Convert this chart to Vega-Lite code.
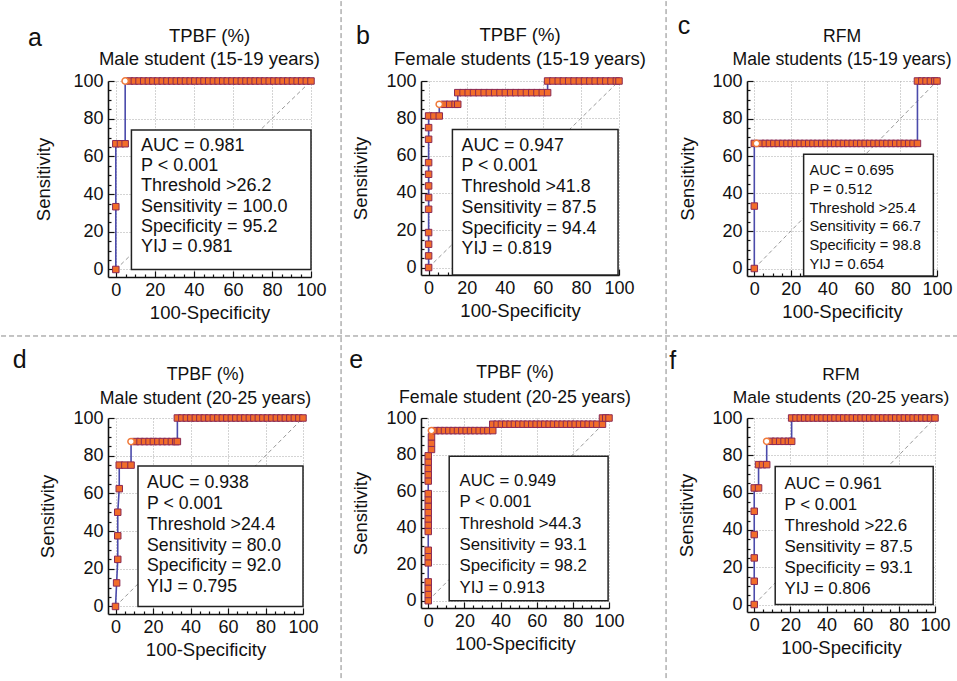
{
"$schema": "https://vega.github.io/schema/vega-lite/v6.json",
"padding": 0,
"background": "white",
"columns": 5,
"spacing": {"row": 141, "column": 0},
"bounds": "flush",
"align": "each",
"datasets": {
"info": [
{"panel":"a","letter":"a","title":"TPBF (%)\nMale student (15-19 years)","stats":"AUC = 0.981\nP < 0.001\nThreshold >26.2\nSensitivity = 100.0\nSpecificity = 95.2\nYIJ = 0.981"},
{"panel":"b","letter":"b","title":"TPBF (%)\nFemale students (15-19 years)","stats":"AUC = 0.947\nP < 0.001\nThreshold >41.8\nSensitivity = 87.5\nSpecificity = 94.4\nYIJ = 0.819"},
{"panel":"c","letter":"c","title":"RFM\nMale students (15-19 years)","stats":"AUC = 0.695\nP = 0.512\nThreshold >25.4\nSensitivity = 66.7\nSpecificity = 98.8\nYIJ = 0.654"},
{"panel":"d","letter":"d","title":"TPBF (%)\nMale student (20-25 years)","stats":"AUC = 0.938\nP < 0.001\nThreshold >24.4\nSensitivity = 80.0\nSpecificity = 92.0\nYIJ = 0.795"},
{"panel":"e","letter":"e","title":"TPBF (%)\nFemale student (20-25 years)","stats":"AUC = 0.949\nP < 0.001\nThreshold >44.3\nSensitivity = 93.1\nSpecificity = 98.2\nYIJ = 0.913"},
{"panel":"f","letter":"f","title":"RFM\nMale students (20-25 years)","stats":"AUC = 0.961\nP < 0.001\nThreshold >22.6\nSensitivity = 87.5\nSpecificity = 93.1\nYIJ = 0.806"}
],
"roc": [
{"panel":"a","fpr":0,"sens":0},{"panel":"a","fpr":0,"sens":33.3},{"panel":"a","fpr":0,"sens":66.7},{"panel":"a","fpr":2.4,"sens":66.7},{"panel":"a","fpr":4.8,"sens":66.7},{"panel":"a","fpr":4.8,"sens":100,"best":true},{"panel":"a","fpr":7.1,"sens":100},{"panel":"a","fpr":9.5,"sens":100},{"panel":"a","fpr":11.9,"sens":100},{"panel":"a","fpr":14.3,"sens":100},{"panel":"a","fpr":16.7,"sens":100},{"panel":"a","fpr":19,"sens":100},{"panel":"a","fpr":21.4,"sens":100},{"panel":"a","fpr":23.8,"sens":100},{"panel":"a","fpr":26.2,"sens":100},{"panel":"a","fpr":28.6,"sens":100},{"panel":"a","fpr":31,"sens":100},{"panel":"a","fpr":33.3,"sens":100},{"panel":"a","fpr":35.7,"sens":100},{"panel":"a","fpr":38.1,"sens":100},{"panel":"a","fpr":40.5,"sens":100},{"panel":"a","fpr":42.9,"sens":100},{"panel":"a","fpr":45.2,"sens":100},{"panel":"a","fpr":47.6,"sens":100},{"panel":"a","fpr":50,"sens":100},{"panel":"a","fpr":52.4,"sens":100},{"panel":"a","fpr":54.8,"sens":100},{"panel":"a","fpr":57.1,"sens":100},{"panel":"a","fpr":59.5,"sens":100},{"panel":"a","fpr":61.9,"sens":100},{"panel":"a","fpr":64.3,"sens":100},{"panel":"a","fpr":66.7,"sens":100},{"panel":"a","fpr":69,"sens":100},{"panel":"a","fpr":71.4,"sens":100},{"panel":"a","fpr":73.8,"sens":100},{"panel":"a","fpr":76.2,"sens":100},{"panel":"a","fpr":78.6,"sens":100},{"panel":"a","fpr":81,"sens":100},{"panel":"a","fpr":83.3,"sens":100},{"panel":"a","fpr":85.7,"sens":100},{"panel":"a","fpr":88.1,"sens":100},{"panel":"a","fpr":90.5,"sens":100},{"panel":"a","fpr":92.9,"sens":100},{"panel":"a","fpr":95.2,"sens":100},{"panel":"a","fpr":97.6,"sens":100},{"panel":"a","fpr":100,"sens":100},
{"panel":"b","fpr":0,"sens":0},{"panel":"b","fpr":0,"sens":6.25},{"panel":"b","fpr":0,"sens":12.5},{"panel":"b","fpr":0,"sens":18.75},{"panel":"b","fpr":0,"sens":31.25},{"panel":"b","fpr":0,"sens":37.5},{"panel":"b","fpr":0,"sens":43.75},{"panel":"b","fpr":0,"sens":50},{"panel":"b","fpr":0,"sens":56.25},{"panel":"b","fpr":0,"sens":68.75},{"panel":"b","fpr":0,"sens":75},{"panel":"b","fpr":0,"sens":81.25},{"panel":"b","fpr":2.8,"sens":81.25},{"panel":"b","fpr":5.6,"sens":81.25},{"panel":"b","fpr":5.6,"sens":87.5,"best":true},{"panel":"b","fpr":8.3,"sens":87.5},{"panel":"b","fpr":11.1,"sens":87.5},{"panel":"b","fpr":13.9,"sens":87.5},{"panel":"b","fpr":15.3,"sens":87.5},{"panel":"b","fpr":15.3,"sens":93.75},{"panel":"b","fpr":18.1,"sens":93.75},{"panel":"b","fpr":20.8,"sens":93.75},{"panel":"b","fpr":23.6,"sens":93.75},{"panel":"b","fpr":26.4,"sens":93.75},{"panel":"b","fpr":29.2,"sens":93.75},{"panel":"b","fpr":31.9,"sens":93.75},{"panel":"b","fpr":34.7,"sens":93.75},{"panel":"b","fpr":37.5,"sens":93.75},{"panel":"b","fpr":40.3,"sens":93.75},{"panel":"b","fpr":43.1,"sens":93.75},{"panel":"b","fpr":45.8,"sens":93.75},{"panel":"b","fpr":48.6,"sens":93.75},{"panel":"b","fpr":51.4,"sens":93.75},{"panel":"b","fpr":54.2,"sens":93.75},{"panel":"b","fpr":56.9,"sens":93.75},{"panel":"b","fpr":59.7,"sens":93.75},{"panel":"b","fpr":62.5,"sens":93.75},{"panel":"b","fpr":62.5,"sens":100},{"panel":"b","fpr":65.3,"sens":100},{"panel":"b","fpr":68.1,"sens":100},{"panel":"b","fpr":70.8,"sens":100},{"panel":"b","fpr":73.6,"sens":100},{"panel":"b","fpr":76.4,"sens":100},{"panel":"b","fpr":79.2,"sens":100},{"panel":"b","fpr":81.9,"sens":100},{"panel":"b","fpr":84.7,"sens":100},{"panel":"b","fpr":87.5,"sens":100},{"panel":"b","fpr":90.3,"sens":100},{"panel":"b","fpr":93.1,"sens":100},{"panel":"b","fpr":95.8,"sens":100},{"panel":"b","fpr":98.6,"sens":100},{"panel":"b","fpr":100,"sens":100},
{"panel":"c","fpr":0,"sens":0},{"panel":"c","fpr":0,"sens":33.3},{"panel":"c","fpr":0,"sens":66.7},{"panel":"c","fpr":1.2,"sens":66.7,"best":true},{"panel":"c","fpr":3.6,"sens":66.7},{"panel":"c","fpr":6,"sens":66.7},{"panel":"c","fpr":8.3,"sens":66.7},{"panel":"c","fpr":10.7,"sens":66.7},{"panel":"c","fpr":13.1,"sens":66.7},{"panel":"c","fpr":15.5,"sens":66.7},{"panel":"c","fpr":17.9,"sens":66.7},{"panel":"c","fpr":20.2,"sens":66.7},{"panel":"c","fpr":22.6,"sens":66.7},{"panel":"c","fpr":25,"sens":66.7},{"panel":"c","fpr":27.4,"sens":66.7},{"panel":"c","fpr":29.8,"sens":66.7},{"panel":"c","fpr":32.1,"sens":66.7},{"panel":"c","fpr":34.5,"sens":66.7},{"panel":"c","fpr":36.9,"sens":66.7},{"panel":"c","fpr":39.3,"sens":66.7},{"panel":"c","fpr":41.7,"sens":66.7},{"panel":"c","fpr":44,"sens":66.7},{"panel":"c","fpr":46.4,"sens":66.7},{"panel":"c","fpr":48.8,"sens":66.7},{"panel":"c","fpr":51.2,"sens":66.7},{"panel":"c","fpr":53.6,"sens":66.7},{"panel":"c","fpr":56,"sens":66.7},{"panel":"c","fpr":58.3,"sens":66.7},{"panel":"c","fpr":60.7,"sens":66.7},{"panel":"c","fpr":63.1,"sens":66.7},{"panel":"c","fpr":65.5,"sens":66.7},{"panel":"c","fpr":67.9,"sens":66.7},{"panel":"c","fpr":70.2,"sens":66.7},{"panel":"c","fpr":72.6,"sens":66.7},{"panel":"c","fpr":75,"sens":66.7},{"panel":"c","fpr":77.4,"sens":66.7},{"panel":"c","fpr":79.8,"sens":66.7},{"panel":"c","fpr":82.1,"sens":66.7},{"panel":"c","fpr":84.5,"sens":66.7},{"panel":"c","fpr":86.9,"sens":66.7},{"panel":"c","fpr":89.3,"sens":66.7},{"panel":"c","fpr":89.3,"sens":100},{"panel":"c","fpr":91.7,"sens":100},{"panel":"c","fpr":94,"sens":100},{"panel":"c","fpr":96.4,"sens":100},{"panel":"c","fpr":98.8,"sens":100},{"panel":"c","fpr":100,"sens":100},
{"panel":"d","fpr":0,"sens":0},{"panel":"d","fpr":0.6,"sens":12.5},{"panel":"d","fpr":1.2,"sens":25},{"panel":"d","fpr":1.2,"sens":37.5},{"panel":"d","fpr":1.2,"sens":50},{"panel":"d","fpr":2,"sens":62.5},{"panel":"d","fpr":2,"sens":75},{"panel":"d","fpr":5,"sens":75},{"panel":"d","fpr":8.3,"sens":75},{"panel":"d","fpr":8.3,"sens":87.5,"best":true},{"panel":"d","fpr":10.7,"sens":87.5},{"panel":"d","fpr":13.1,"sens":87.5},{"panel":"d","fpr":15.5,"sens":87.5},{"panel":"d","fpr":17.9,"sens":87.5},{"panel":"d","fpr":20.2,"sens":87.5},{"panel":"d","fpr":22.6,"sens":87.5},{"panel":"d","fpr":25,"sens":87.5},{"panel":"d","fpr":27.4,"sens":87.5},{"panel":"d","fpr":29.8,"sens":87.5},{"panel":"d","fpr":32.1,"sens":87.5},{"panel":"d","fpr":33,"sens":87.5},{"panel":"d","fpr":33,"sens":100},{"panel":"d","fpr":35.4,"sens":100},{"panel":"d","fpr":37.8,"sens":100},{"panel":"d","fpr":40.2,"sens":100},{"panel":"d","fpr":42.6,"sens":100},{"panel":"d","fpr":45,"sens":100},{"panel":"d","fpr":47.4,"sens":100},{"panel":"d","fpr":49.8,"sens":100},{"panel":"d","fpr":52.2,"sens":100},{"panel":"d","fpr":54.6,"sens":100},{"panel":"d","fpr":57,"sens":100},{"panel":"d","fpr":59.4,"sens":100},{"panel":"d","fpr":61.8,"sens":100},{"panel":"d","fpr":64.2,"sens":100},{"panel":"d","fpr":66.6,"sens":100},{"panel":"d","fpr":69,"sens":100},{"panel":"d","fpr":71.4,"sens":100},{"panel":"d","fpr":73.8,"sens":100},{"panel":"d","fpr":76.2,"sens":100},{"panel":"d","fpr":78.6,"sens":100},{"panel":"d","fpr":81,"sens":100},{"panel":"d","fpr":83.4,"sens":100},{"panel":"d","fpr":85.8,"sens":100},{"panel":"d","fpr":88.2,"sens":100},{"panel":"d","fpr":90.6,"sens":100},{"panel":"d","fpr":93,"sens":100},{"panel":"d","fpr":95.4,"sens":100},{"panel":"d","fpr":97.8,"sens":100},{"panel":"d","fpr":100,"sens":100},
{"panel":"e","fpr":0,"sens":0},{"panel":"e","fpr":0,"sens":3.4},{"panel":"e","fpr":0,"sens":6.9},{"panel":"e","fpr":0,"sens":10.3},{"panel":"e","fpr":0,"sens":20.7},{"panel":"e","fpr":0,"sens":24.1},{"panel":"e","fpr":0,"sens":27.6},{"panel":"e","fpr":0,"sens":37.9},{"panel":"e","fpr":0,"sens":41.4},{"panel":"e","fpr":0,"sens":44.8},{"panel":"e","fpr":0,"sens":48.3},{"panel":"e","fpr":0,"sens":51.7},{"panel":"e","fpr":0,"sens":55.2},{"panel":"e","fpr":0,"sens":58.6},{"panel":"e","fpr":0,"sens":65.5},{"panel":"e","fpr":0,"sens":69},{"panel":"e","fpr":0,"sens":72.4},{"panel":"e","fpr":0,"sens":75.9},{"panel":"e","fpr":0,"sens":79.3},{"panel":"e","fpr":1.8,"sens":82.8},{"panel":"e","fpr":1.8,"sens":86.2},{"panel":"e","fpr":1.8,"sens":89.7},{"panel":"e","fpr":1.8,"sens":93.1,"best":true},{"panel":"e","fpr":4.2,"sens":93.1},{"panel":"e","fpr":6.6,"sens":93.1},{"panel":"e","fpr":9,"sens":93.1},{"panel":"e","fpr":11.4,"sens":93.1},{"panel":"e","fpr":13.8,"sens":93.1},{"panel":"e","fpr":16.2,"sens":93.1},{"panel":"e","fpr":18.6,"sens":93.1},{"panel":"e","fpr":21,"sens":93.1},{"panel":"e","fpr":23.4,"sens":93.1},{"panel":"e","fpr":25.8,"sens":93.1},{"panel":"e","fpr":28.2,"sens":93.1},{"panel":"e","fpr":30.6,"sens":93.1},{"panel":"e","fpr":33,"sens":93.1},{"panel":"e","fpr":35.7,"sens":93.1},{"panel":"e","fpr":35.7,"sens":96.6},{"panel":"e","fpr":38.1,"sens":96.6},{"panel":"e","fpr":40.5,"sens":96.6},{"panel":"e","fpr":42.9,"sens":96.6},{"panel":"e","fpr":45.3,"sens":96.6},{"panel":"e","fpr":47.7,"sens":96.6},{"panel":"e","fpr":50.1,"sens":96.6},{"panel":"e","fpr":52.5,"sens":96.6},{"panel":"e","fpr":54.9,"sens":96.6},{"panel":"e","fpr":57.3,"sens":96.6},{"panel":"e","fpr":59.7,"sens":96.6},{"panel":"e","fpr":62.1,"sens":96.6},{"panel":"e","fpr":64.5,"sens":96.6},{"panel":"e","fpr":66.9,"sens":96.6},{"panel":"e","fpr":69.3,"sens":96.6},{"panel":"e","fpr":71.7,"sens":96.6},{"panel":"e","fpr":74.1,"sens":96.6},{"panel":"e","fpr":76.5,"sens":96.6},{"panel":"e","fpr":78.9,"sens":96.6},{"panel":"e","fpr":81.3,"sens":96.6},{"panel":"e","fpr":83.7,"sens":96.6},{"panel":"e","fpr":86.1,"sens":96.6},{"panel":"e","fpr":88.5,"sens":96.6},{"panel":"e","fpr":90.9,"sens":96.6},{"panel":"e","fpr":93.3,"sens":96.6},{"panel":"e","fpr":96.4,"sens":96.6},{"panel":"e","fpr":96.4,"sens":100},{"panel":"e","fpr":98.2,"sens":100},{"panel":"e","fpr":100,"sens":100},
{"panel":"f","fpr":0,"sens":0},{"panel":"f","fpr":0,"sens":12.5},{"panel":"f","fpr":0,"sens":25},{"panel":"f","fpr":0,"sens":37.5},{"panel":"f","fpr":0,"sens":50},{"panel":"f","fpr":0,"sens":62.5},{"panel":"f","fpr":2.4,"sens":62.5},{"panel":"f","fpr":2.4,"sens":75},{"panel":"f","fpr":4.6,"sens":75},{"panel":"f","fpr":6.9,"sens":75},{"panel":"f","fpr":6.9,"sens":87.5,"best":true},{"panel":"f","fpr":9.3,"sens":87.5},{"panel":"f","fpr":11.7,"sens":87.5},{"panel":"f","fpr":14.1,"sens":87.5},{"panel":"f","fpr":16.5,"sens":87.5},{"panel":"f","fpr":18.9,"sens":87.5},{"panel":"f","fpr":20.7,"sens":87.5},{"panel":"f","fpr":20.7,"sens":100},{"panel":"f","fpr":23.1,"sens":100},{"panel":"f","fpr":25.5,"sens":100},{"panel":"f","fpr":27.9,"sens":100},{"panel":"f","fpr":30.3,"sens":100},{"panel":"f","fpr":32.7,"sens":100},{"panel":"f","fpr":35.1,"sens":100},{"panel":"f","fpr":37.5,"sens":100},{"panel":"f","fpr":39.9,"sens":100},{"panel":"f","fpr":42.3,"sens":100},{"panel":"f","fpr":44.7,"sens":100},{"panel":"f","fpr":47.1,"sens":100},{"panel":"f","fpr":49.5,"sens":100},{"panel":"f","fpr":51.9,"sens":100},{"panel":"f","fpr":54.3,"sens":100},{"panel":"f","fpr":56.7,"sens":100},{"panel":"f","fpr":59.1,"sens":100},{"panel":"f","fpr":61.5,"sens":100},{"panel":"f","fpr":63.9,"sens":100},{"panel":"f","fpr":66.3,"sens":100},{"panel":"f","fpr":68.7,"sens":100},{"panel":"f","fpr":71.1,"sens":100},{"panel":"f","fpr":73.5,"sens":100},{"panel":"f","fpr":75.9,"sens":100},{"panel":"f","fpr":78.3,"sens":100},{"panel":"f","fpr":80.7,"sens":100},{"panel":"f","fpr":83.1,"sens":100},{"panel":"f","fpr":85.5,"sens":100},{"panel":"f","fpr":87.9,"sens":100},{"panel":"f","fpr":90.3,"sens":100},{"panel":"f","fpr":92.7,"sens":100},{"panel":"f","fpr":95.1,"sens":100},{"panel":"f","fpr":97.5,"sens":100},{"panel":"f","fpr":100,"sens":100}
]
},
"concat": [
{"width": 203, "height": 196, "resolve": {"axis": {"x": "independent", "y": "independent"}}, "layer": [
 {"data": {"name": "roc"}, "transform": [{"filter": "datum.panel === 'a'"}], "mark": {"type": "line", "opacity": 0},
  "encoding": {"x": {"field": "fpr", "type": "quantitative", "scale": {"domain": [-4, 100], "nice": false, "zero": false}, "axis": {"orient": "bottom", "title": "100-Specificity", "values": [0,20,40,60,80,100], "labelOverlap": false, "tickSize": -6, "labelPadding": 10, "titlePadding": 4}},
   "y": {"field": "sens", "type": "quantitative", "scale": {"domain": [-4, 100], "nice": false, "zero": false}, "axis": {"orient": "left", "title": "Sensitivity", "values": [0,20,40,60,80,100], "labelOverlap": false, "tickSize": -6, "labelPadding": 11, "titlePadding": 19}}}},
 {"data": {"name": "roc"}, "transform": [{"filter": "datum.panel === 'a'"}], "mark": {"type": "line", "opacity": 0},
  "encoding": {"x": {"field": "fpr", "type": "quantitative", "axis": {"orient": "bottom", "title": null, "values": [5,10,15,25,30,35,45,50,55,65,70,75,85,90,95], "labels": false, "domain": false, "grid": false, "tickSize": -3}},
   "y": {"field": "sens", "type": "quantitative", "axis": {"orient": "left", "title": null, "values": [5,10,15,25,30,35,45,50,55,65,70,75,85,90,95], "labels": false, "domain": false, "grid": false, "tickSize": -3}}}},
 {"data": {"values": [{}]}, "mark": {"type": "rule", "color": "#999999", "strokeDash": [4, 3], "strokeWidth": 1}, "encoding": {"x": {"datum": 0, "axis": null}, "y": {"datum": 0, "axis": null}, "x2": {"datum": 100}, "y2": {"datum": 100}}},
 {"data": {"values": [{}]}, "mark": {"type": "rect", "fill": "white", "stroke": "#222222", "strokeWidth": 1.5}, "encoding": {"x": {"datum": 8, "axis": null}, "x2": {"datum": 100}, "y": {"datum": 0, "axis": null}, "y2": {"datum": 74}}},
 {"data": {"name": "roc"}, "transform": [{"filter": "datum.panel === 'a'"}], "mark": {"type": "line", "color": "#4b4bab", "strokeWidth": 1.6}, "encoding": {"x": {"field": "fpr", "type": "quantitative", "axis": null}, "y": {"field": "sens", "type": "quantitative", "axis": null}, "order": {"value": null}}},
 {"data": {"name": "roc"}, "transform": [{"filter": "datum.panel === 'a' && !datum.best"}], "mark": {"type": "point", "shape": "square", "filled": true, "fill": "#f26d2a", "stroke": "#8a2a55", "strokeWidth": 1, "size": 42, "opacity": 1}, "encoding": {"x": {"field": "fpr", "type": "quantitative", "axis": null}, "y": {"field": "sens", "type": "quantitative", "axis": null}}},
 {"data": {"name": "roc"}, "transform": [{"filter": "datum.panel === 'a' && datum.best"}], "mark": {"type": "point", "shape": "circle", "filled": true, "fill": "#ffffff", "stroke": "#f07a3a", "strokeWidth": 1.5, "size": 40, "opacity": 1}, "encoding": {"x": {"field": "fpr", "type": "quantitative", "axis": null}, "y": {"field": "sens", "type": "quantitative", "axis": null}}},
 {"data": {"name": "info"}, "transform": [{"filter": "datum.panel === 'a'"}], "mark": {"type": "text", "align": "left", "baseline": "alphabetic", "fontSize": 18, "lineHeight": 20.3, "lineBreak": "\n", "color": "#111111"}, "encoding": {"x": {"datum": 12.9, "axis": null}, "y": {"datum": 63, "axis": null}, "text": {"field": "stats"}}},
 {"data": {"name": "info"}, "transform": [{"filter": "datum.panel === 'a'"}], "mark": {"type": "text", "align": "center", "baseline": "alphabetic", "fontSize": 18.5, "lineHeight": 23.3, "lineBreak": "\n", "color": "#111111"}, "encoding": {"x": {"datum": 48, "axis": null}, "y": {"datum": 120.9, "axis": null}, "text": {"field": "title"}}},
 {"data": {"name": "info"}, "transform": [{"filter": "datum.panel === 'a'"}], "mark": {"type": "text", "align": "left", "baseline": "alphabetic", "fontSize": 25, "color": "#111111"}, "encoding": {"x": {"datum": -45, "axis": null}, "y": {"datum": 118.6, "axis": null}, "text": {"field": "letter"}}},
 {"data": {"values": [{}]}, "mark": {"type": "rule", "color": "#888888", "strokeDash": [5, 3], "strokeWidth": 1}, "encoding": {"x": {"datum": -58.8, "axis": null}, "x2": {"datum": 431.5}, "y": {"datum": -35.3, "axis": null}}},
 {"data": {"values": [{}]}, "mark": {"type": "rule", "color": "#888888", "strokeDash": [5, 3], "strokeWidth": 1}, "encoding": {"x": {"datum": 115.4, "axis": null}, "y": {"datum": 142.4, "axis": null}, "y2": {"datum": -218.9}}},
 {"data": {"values": [{}]}, "mark": {"type": "rule", "color": "#888888", "strokeDash": [5, 3], "strokeWidth": 1}, "encoding": {"x": {"datum": 281.9, "axis": null}, "y": {"datum": 142.4, "axis": null}, "y2": {"datum": -218.9}}}
]},
{"width": 110, "height": 1, "data": {"values": []}, "mark": "text"},
{"width": 198, "height": 194, "resolve": {"axis": {"x": "independent", "y": "independent"}}, "layer": [
 {"data": {"name": "roc"}, "transform": [{"filter": "datum.panel === 'b'"}], "mark": {"type": "line", "opacity": 0},
  "encoding": {"x": {"field": "fpr", "type": "quantitative", "scale": {"domain": [-4, 100], "nice": false, "zero": false}, "axis": {"orient": "bottom", "title": "100-Specificity", "values": [0,20,40,60,80,100], "labelOverlap": false, "tickSize": -6, "labelPadding": 10, "titlePadding": 4}},
   "y": {"field": "sens", "type": "quantitative", "scale": {"domain": [-4, 100], "nice": false, "zero": false}, "axis": {"orient": "left", "title": "Sensitivity", "values": [0,20,40,60,80,100], "labelOverlap": false, "tickSize": -6, "labelPadding": 11, "titlePadding": 15}}}},
 {"data": {"name": "roc"}, "transform": [{"filter": "datum.panel === 'b'"}], "mark": {"type": "line", "opacity": 0},
  "encoding": {"x": {"field": "fpr", "type": "quantitative", "axis": {"orient": "bottom", "title": null, "values": [5,10,15,25,30,35,45,50,55,65,70,75,85,90,95], "labels": false, "domain": false, "grid": false, "tickSize": -3}},
   "y": {"field": "sens", "type": "quantitative", "axis": {"orient": "left", "title": null, "values": [5,10,15,25,30,35,45,50,55,65,70,75,85,90,95], "labels": false, "domain": false, "grid": false, "tickSize": -3}}}},
 {"data": {"values": [{}]}, "mark": {"type": "rule", "color": "#999999", "strokeDash": [4, 3], "strokeWidth": 1}, "encoding": {"x": {"datum": 0, "axis": null}, "y": {"datum": 0, "axis": null}, "x2": {"datum": 100}, "y2": {"datum": 100}}},
 {"data": {"values": [{}]}, "mark": {"type": "rect", "fill": "white", "stroke": "#222222", "strokeWidth": 1.5}, "encoding": {"x": {"datum": 12.5, "axis": null}, "x2": {"datum": 99.5}, "y": {"datum": -4, "axis": null}, "y2": {"datum": 74}}},
 {"data": {"name": "roc"}, "transform": [{"filter": "datum.panel === 'b'"}], "mark": {"type": "line", "color": "#4b4bab", "strokeWidth": 1.6}, "encoding": {"x": {"field": "fpr", "type": "quantitative", "axis": null}, "y": {"field": "sens", "type": "quantitative", "axis": null}, "order": {"value": null}}},
 {"data": {"name": "roc"}, "transform": [{"filter": "datum.panel === 'b' && !datum.best"}], "mark": {"type": "point", "shape": "square", "filled": true, "fill": "#f26d2a", "stroke": "#8a2a55", "strokeWidth": 1, "size": 42, "opacity": 1}, "encoding": {"x": {"field": "fpr", "type": "quantitative", "axis": null}, "y": {"field": "sens", "type": "quantitative", "axis": null}}},
 {"data": {"name": "roc"}, "transform": [{"filter": "datum.panel === 'b' && datum.best"}], "mark": {"type": "point", "shape": "circle", "filled": true, "fill": "#ffffff", "stroke": "#f07a3a", "strokeWidth": 1.5, "size": 40, "opacity": 1}, "encoding": {"x": {"field": "fpr", "type": "quantitative", "axis": null}, "y": {"field": "sens", "type": "quantitative", "axis": null}}},
 {"data": {"name": "info"}, "transform": [{"filter": "datum.panel === 'b'"}], "mark": {"type": "text", "align": "left", "baseline": "alphabetic", "fontSize": 17.8, "lineHeight": 20.7, "lineBreak": "\n", "color": "#111111"}, "encoding": {"x": {"datum": 17.3, "axis": null}, "y": {"datum": 62.6, "axis": null}, "text": {"field": "stats"}}},
 {"data": {"name": "info"}, "transform": [{"filter": "datum.panel === 'b'"}], "mark": {"type": "text", "align": "center", "baseline": "alphabetic", "fontSize": 18.5, "lineHeight": 24.5, "lineBreak": "\n", "color": "#111111"}, "encoding": {"x": {"datum": 48, "axis": null}, "y": {"datum": 121.7, "axis": null}, "text": {"field": "title"}}},
 {"data": {"name": "info"}, "transform": [{"filter": "datum.panel === 'b'"}], "mark": {"type": "text", "align": "left", "baseline": "alphabetic", "fontSize": 25, "color": "#111111"}, "encoding": {"x": {"datum": -38.1, "axis": null}, "y": {"datum": 119.7, "axis": null}, "text": {"field": "letter"}}}
]},
{"width": 128, "height": 1, "data": {"values": []}, "mark": "text"},
{"width": 190, "height": 195, "resolve": {"axis": {"x": "independent", "y": "independent"}}, "layer": [
 {"data": {"name": "roc"}, "transform": [{"filter": "datum.panel === 'c'"}], "mark": {"type": "line", "opacity": 0},
  "encoding": {"x": {"field": "fpr", "type": "quantitative", "scale": {"domain": [-4, 100], "nice": false, "zero": false}, "axis": {"orient": "bottom", "title": "100-Specificity", "values": [0,20,40,60,80,100], "labelOverlap": false, "tickSize": -6, "labelPadding": 10, "titlePadding": 4}},
   "y": {"field": "sens", "type": "quantitative", "scale": {"domain": [-4, 100], "nice": false, "zero": false}, "axis": {"orient": "left", "title": "Sensitivity", "values": [0,20,40,60,80,100], "labelOverlap": false, "tickSize": -6, "labelPadding": 11, "titlePadding": 14}}}},
 {"data": {"name": "roc"}, "transform": [{"filter": "datum.panel === 'c'"}], "mark": {"type": "line", "opacity": 0},
  "encoding": {"x": {"field": "fpr", "type": "quantitative", "axis": {"orient": "bottom", "title": null, "values": [5,10,15,25,30,35,45,50,55,65,70,75,85,90,95], "labels": false, "domain": false, "grid": false, "tickSize": -3}},
   "y": {"field": "sens", "type": "quantitative", "axis": {"orient": "left", "title": null, "values": [5,10,15,25,30,35,45,50,55,65,70,75,85,90,95], "labels": false, "domain": false, "grid": false, "tickSize": -3}}}},
 {"data": {"values": [{}]}, "mark": {"type": "rule", "color": "#999999", "strokeDash": [4, 3], "strokeWidth": 1}, "encoding": {"x": {"datum": 0, "axis": null}, "y": {"datum": 0, "axis": null}, "x2": {"datum": 100}, "y2": {"datum": 100}}},
 {"data": {"values": [{}]}, "mark": {"type": "rect", "fill": "white", "stroke": "#222222", "strokeWidth": 1.5}, "encoding": {"x": {"datum": 27, "axis": null}, "x2": {"datum": 98}, "y": {"datum": -4, "axis": null}, "y2": {"datum": 61}}},
 {"data": {"name": "roc"}, "transform": [{"filter": "datum.panel === 'c'"}], "mark": {"type": "line", "color": "#4b4bab", "strokeWidth": 1.6}, "encoding": {"x": {"field": "fpr", "type": "quantitative", "axis": null}, "y": {"field": "sens", "type": "quantitative", "axis": null}, "order": {"value": null}}},
 {"data": {"name": "roc"}, "transform": [{"filter": "datum.panel === 'c' && !datum.best"}], "mark": {"type": "point", "shape": "square", "filled": true, "fill": "#f26d2a", "stroke": "#8a2a55", "strokeWidth": 1, "size": 42, "opacity": 1}, "encoding": {"x": {"field": "fpr", "type": "quantitative", "axis": null}, "y": {"field": "sens", "type": "quantitative", "axis": null}}},
 {"data": {"name": "roc"}, "transform": [{"filter": "datum.panel === 'c' && datum.best"}], "mark": {"type": "point", "shape": "circle", "filled": true, "fill": "#ffffff", "stroke": "#f07a3a", "strokeWidth": 1.5, "size": 40, "opacity": 1}, "encoding": {"x": {"field": "fpr", "type": "quantitative", "axis": null}, "y": {"field": "sens", "type": "quantitative", "axis": null}}},
 {"data": {"name": "info"}, "transform": [{"filter": "datum.panel === 'c'"}], "mark": {"type": "text", "align": "left", "baseline": "alphabetic", "fontSize": 14.7, "lineHeight": 18.7, "lineBreak": "\n", "color": "#111111"}, "encoding": {"x": {"datum": 30.2, "axis": null}, "y": {"datum": 49.7, "axis": null}, "text": {"field": "stats"}}},
 {"data": {"name": "info"}, "transform": [{"filter": "datum.panel === 'c'"}], "mark": {"type": "text", "align": "center", "baseline": "alphabetic", "fontSize": 17.6, "lineHeight": 22.7, "lineBreak": "\n", "color": "#111111"}, "encoding": {"x": {"datum": 48, "axis": null}, "y": {"datum": 120.6, "axis": null}, "text": {"field": "title"}}},
 {"data": {"name": "info"}, "transform": [{"filter": "datum.panel === 'c'"}], "mark": {"type": "text", "align": "left", "baseline": "alphabetic", "fontSize": 25, "color": "#111111"}, "encoding": {"x": {"datum": -41.9, "axis": null}, "y": {"datum": 124.9, "axis": null}, "text": {"field": "letter"}}}
]},
{"width": 195, "height": 196, "resolve": {"axis": {"x": "independent", "y": "independent"}}, "layer": [
 {"data": {"name": "roc"}, "transform": [{"filter": "datum.panel === 'd'"}], "mark": {"type": "line", "opacity": 0},
  "encoding": {"x": {"field": "fpr", "type": "quantitative", "scale": {"domain": [-4, 100], "nice": false, "zero": false}, "axis": {"orient": "bottom", "title": "100-Specificity", "values": [0,20,40,60,80,100], "labelOverlap": false, "tickSize": -6, "labelPadding": 10, "titlePadding": 4}},
   "y": {"field": "sens", "type": "quantitative", "scale": {"domain": [-4, 100], "nice": false, "zero": false}, "axis": {"orient": "left", "title": "Sensitivity", "values": [0,20,40,60,80,100], "labelOverlap": false, "tickSize": -6, "labelPadding": 11, "titlePadding": 15}}}},
 {"data": {"name": "roc"}, "transform": [{"filter": "datum.panel === 'd'"}], "mark": {"type": "line", "opacity": 0},
  "encoding": {"x": {"field": "fpr", "type": "quantitative", "axis": {"orient": "bottom", "title": null, "values": [5,10,15,25,30,35,45,50,55,65,70,75,85,90,95], "labels": false, "domain": false, "grid": false, "tickSize": -3}},
   "y": {"field": "sens", "type": "quantitative", "axis": {"orient": "left", "title": null, "values": [5,10,15,25,30,35,45,50,55,65,70,75,85,90,95], "labels": false, "domain": false, "grid": false, "tickSize": -3}}}},
 {"data": {"values": [{}]}, "mark": {"type": "rule", "color": "#999999", "strokeDash": [4, 3], "strokeWidth": 1}, "encoding": {"x": {"datum": 0, "axis": null}, "y": {"datum": 0, "axis": null}, "x2": {"datum": 100}, "y2": {"datum": 100}}},
 {"data": {"values": [{}]}, "mark": {"type": "rect", "fill": "white", "stroke": "#222222", "strokeWidth": 1.5}, "encoding": {"x": {"datum": 12, "axis": null}, "x2": {"datum": 100}, "y": {"datum": 0, "axis": null}, "y2": {"datum": 74.5}}},
 {"data": {"name": "roc"}, "transform": [{"filter": "datum.panel === 'd'"}], "mark": {"type": "line", "color": "#4b4bab", "strokeWidth": 1.6}, "encoding": {"x": {"field": "fpr", "type": "quantitative", "axis": null}, "y": {"field": "sens", "type": "quantitative", "axis": null}, "order": {"value": null}}},
 {"data": {"name": "roc"}, "transform": [{"filter": "datum.panel === 'd' && !datum.best"}], "mark": {"type": "point", "shape": "square", "filled": true, "fill": "#f26d2a", "stroke": "#8a2a55", "strokeWidth": 1, "size": 42, "opacity": 1}, "encoding": {"x": {"field": "fpr", "type": "quantitative", "axis": null}, "y": {"field": "sens", "type": "quantitative", "axis": null}}},
 {"data": {"name": "roc"}, "transform": [{"filter": "datum.panel === 'd' && datum.best"}], "mark": {"type": "point", "shape": "circle", "filled": true, "fill": "#ffffff", "stroke": "#f07a3a", "strokeWidth": 1.5, "size": 40, "opacity": 1}, "encoding": {"x": {"field": "fpr", "type": "quantitative", "axis": null}, "y": {"field": "sens", "type": "quantitative", "axis": null}}},
 {"data": {"name": "info"}, "transform": [{"filter": "datum.panel === 'd'"}], "mark": {"type": "text", "align": "left", "baseline": "alphabetic", "fontSize": 17.7, "lineHeight": 20.7, "lineBreak": "\n", "color": "#111111"}, "encoding": {"x": {"datum": 16.8, "axis": null}, "y": {"datum": 62.6, "axis": null}, "text": {"field": "stats"}}},
 {"data": {"name": "info"}, "transform": [{"filter": "datum.panel === 'd'"}], "mark": {"type": "text", "align": "center", "baseline": "alphabetic", "fontSize": 17.7, "lineHeight": 24.5, "lineBreak": "\n", "color": "#111111"}, "encoding": {"x": {"datum": 48, "axis": null}, "y": {"datum": 120.4, "axis": null}, "text": {"field": "title"}}},
 {"data": {"name": "info"}, "transform": [{"filter": "datum.panel === 'd'"}], "mark": {"type": "text", "align": "left", "baseline": "alphabetic", "fontSize": 25, "color": "#111111"}, "encoding": {"x": {"datum": -54.8, "axis": null}, "y": {"datum": 126.7, "axis": null}, "text": {"field": "letter"}}}
]},
{"width": 110, "height": 1, "data": {"values": []}, "mark": "text"},
{"width": 188, "height": 190, "resolve": {"axis": {"x": "independent", "y": "independent"}}, "layer": [
 {"data": {"name": "roc"}, "transform": [{"filter": "datum.panel === 'e'"}], "mark": {"type": "line", "opacity": 0},
  "encoding": {"x": {"field": "fpr", "type": "quantitative", "scale": {"domain": [-4, 100], "nice": false, "zero": false}, "axis": {"orient": "bottom", "title": "100-Specificity", "values": [0,20,40,60,80,100], "labelOverlap": false, "tickSize": -6, "labelPadding": 10, "titlePadding": 4}},
   "y": {"field": "sens", "type": "quantitative", "scale": {"domain": [-4, 100], "nice": false, "zero": false}, "axis": {"orient": "left", "title": "Sensitivity", "values": [0,20,40,60,80,100], "labelOverlap": false, "tickSize": -6, "labelPadding": 11, "titlePadding": 15}}}},
 {"data": {"name": "roc"}, "transform": [{"filter": "datum.panel === 'e'"}], "mark": {"type": "line", "opacity": 0},
  "encoding": {"x": {"field": "fpr", "type": "quantitative", "axis": {"orient": "bottom", "title": null, "values": [5,10,15,25,30,35,45,50,55,65,70,75,85,90,95], "labels": false, "domain": false, "grid": false, "tickSize": -3}},
   "y": {"field": "sens", "type": "quantitative", "axis": {"orient": "left", "title": null, "values": [5,10,15,25,30,35,45,50,55,65,70,75,85,90,95], "labels": false, "domain": false, "grid": false, "tickSize": -3}}}},
 {"data": {"values": [{}]}, "mark": {"type": "rule", "color": "#999999", "strokeDash": [4, 3], "strokeWidth": 1}, "encoding": {"x": {"datum": 0, "axis": null}, "y": {"datum": 0, "axis": null}, "x2": {"datum": 100}, "y2": {"datum": 100}}},
 {"data": {"values": [{}]}, "mark": {"type": "rect", "fill": "white", "stroke": "#222222", "strokeWidth": 1.5}, "encoding": {"x": {"datum": 11.6, "axis": null}, "x2": {"datum": 99.5}, "y": {"datum": 0, "axis": null}, "y2": {"datum": 79}}},
 {"data": {"name": "roc"}, "transform": [{"filter": "datum.panel === 'e'"}], "mark": {"type": "line", "color": "#4b4bab", "strokeWidth": 1.6}, "encoding": {"x": {"field": "fpr", "type": "quantitative", "axis": null}, "y": {"field": "sens", "type": "quantitative", "axis": null}, "order": {"value": null}}},
 {"data": {"name": "roc"}, "transform": [{"filter": "datum.panel === 'e' && !datum.best"}], "mark": {"type": "point", "shape": "square", "filled": true, "fill": "#f26d2a", "stroke": "#8a2a55", "strokeWidth": 1, "size": 42, "opacity": 1}, "encoding": {"x": {"field": "fpr", "type": "quantitative", "axis": null}, "y": {"field": "sens", "type": "quantitative", "axis": null}}},
 {"data": {"name": "roc"}, "transform": [{"filter": "datum.panel === 'e' && datum.best"}], "mark": {"type": "point", "shape": "circle", "filled": true, "fill": "#ffffff", "stroke": "#f07a3a", "strokeWidth": 1.5, "size": 40, "opacity": 1}, "encoding": {"x": {"field": "fpr", "type": "quantitative", "axis": null}, "y": {"field": "sens", "type": "quantitative", "axis": null}}},
 {"data": {"name": "info"}, "transform": [{"filter": "datum.panel === 'e'"}], "mark": {"type": "text", "align": "left", "baseline": "alphabetic", "fontSize": 16.8, "lineHeight": 21.3, "lineBreak": "\n", "color": "#111111"}, "encoding": {"x": {"datum": 17.3, "axis": null}, "y": {"datum": 62.7, "axis": null}, "text": {"field": "stats"}}},
 {"data": {"name": "info"}, "transform": [{"filter": "datum.panel === 'e'"}], "mark": {"type": "text", "align": "center", "baseline": "alphabetic", "fontSize": 17.7, "lineHeight": 24.4, "lineBreak": "\n", "color": "#111111"}, "encoding": {"x": {"datum": 48, "axis": null}, "y": {"datum": 121.7, "axis": null}, "text": {"field": "title"}}},
 {"data": {"name": "info"}, "transform": [{"filter": "datum.panel === 'e'"}], "mark": {"type": "text", "align": "left", "baseline": "alphabetic", "fontSize": 25, "color": "#111111"}, "encoding": {"x": {"datum": -43.7, "axis": null}, "y": {"datum": 127.5, "axis": null}, "text": {"field": "letter"}}}
]},
{"width": 128, "height": 1, "data": {"values": []}, "mark": "text"},
{"width": 188, "height": 194, "resolve": {"axis": {"x": "independent", "y": "independent"}}, "layer": [
 {"data": {"name": "roc"}, "transform": [{"filter": "datum.panel === 'f'"}], "mark": {"type": "line", "opacity": 0},
  "encoding": {"x": {"field": "fpr", "type": "quantitative", "scale": {"domain": [-4, 100], "nice": false, "zero": false}, "axis": {"orient": "bottom", "title": "100-Specificity", "values": [0,20,40,60,80,100], "labelOverlap": false, "tickSize": -6, "labelPadding": 10, "titlePadding": 4}},
   "y": {"field": "sens", "type": "quantitative", "scale": {"domain": [-4, 100], "nice": false, "zero": false}, "axis": {"orient": "left", "title": "Sensitivity", "values": [0,20,40,60,80,100], "labelOverlap": false, "tickSize": -6, "labelPadding": 11, "titlePadding": 15}}}},
 {"data": {"name": "roc"}, "transform": [{"filter": "datum.panel === 'f'"}], "mark": {"type": "line", "opacity": 0},
  "encoding": {"x": {"field": "fpr", "type": "quantitative", "axis": {"orient": "bottom", "title": null, "values": [5,10,15,25,30,35,45,50,55,65,70,75,85,90,95], "labels": false, "domain": false, "grid": false, "tickSize": -3}},
   "y": {"field": "sens", "type": "quantitative", "axis": {"orient": "left", "title": null, "values": [5,10,15,25,30,35,45,50,55,65,70,75,85,90,95], "labels": false, "domain": false, "grid": false, "tickSize": -3}}}},
 {"data": {"values": [{}]}, "mark": {"type": "rule", "color": "#999999", "strokeDash": [4, 3], "strokeWidth": 1}, "encoding": {"x": {"datum": 0, "axis": null}, "y": {"datum": 0, "axis": null}, "x2": {"datum": 100}, "y2": {"datum": 100}}},
 {"data": {"values": [{}]}, "mark": {"type": "rect", "fill": "white", "stroke": "#222222", "strokeWidth": 1.5}, "encoding": {"x": {"datum": 11.6, "axis": null}, "x2": {"datum": 99}, "y": {"datum": 0, "axis": null}, "y2": {"datum": 74}}},
 {"data": {"name": "roc"}, "transform": [{"filter": "datum.panel === 'f'"}], "mark": {"type": "line", "color": "#4b4bab", "strokeWidth": 1.6}, "encoding": {"x": {"field": "fpr", "type": "quantitative", "axis": null}, "y": {"field": "sens", "type": "quantitative", "axis": null}, "order": {"value": null}}},
 {"data": {"name": "roc"}, "transform": [{"filter": "datum.panel === 'f' && !datum.best"}], "mark": {"type": "point", "shape": "square", "filled": true, "fill": "#f26d2a", "stroke": "#8a2a55", "strokeWidth": 1, "size": 42, "opacity": 1}, "encoding": {"x": {"field": "fpr", "type": "quantitative", "axis": null}, "y": {"field": "sens", "type": "quantitative", "axis": null}}},
 {"data": {"name": "roc"}, "transform": [{"filter": "datum.panel === 'f' && datum.best"}], "mark": {"type": "point", "shape": "circle", "filled": true, "fill": "#ffffff", "stroke": "#f07a3a", "strokeWidth": 1.5, "size": 40, "opacity": 1}, "encoding": {"x": {"field": "fpr", "type": "quantitative", "axis": null}, "y": {"field": "sens", "type": "quantitative", "axis": null}}},
 {"data": {"name": "info"}, "transform": [{"filter": "datum.panel === 'f'"}], "mark": {"type": "text", "align": "left", "baseline": "alphabetic", "fontSize": 16.9, "lineHeight": 21, "lineBreak": "\n", "color": "#111111"}, "encoding": {"x": {"datum": 16.8, "axis": null}, "y": {"datum": 62.2, "axis": null}, "text": {"field": "stats"}}},
 {"data": {"name": "info"}, "transform": [{"filter": "datum.panel === 'f'"}], "mark": {"type": "text", "align": "center", "baseline": "alphabetic", "fontSize": 17.4, "lineHeight": 23.4, "lineBreak": "\n", "color": "#111111"}, "encoding": {"x": {"datum": 48, "axis": null}, "y": {"datum": 120.4, "axis": null}, "text": {"field": "title"}}},
 {"data": {"name": "info"}, "transform": [{"filter": "datum.panel === 'f'"}], "mark": {"type": "text", "align": "left", "baseline": "alphabetic", "fontSize": 25, "color": "#111111"}, "encoding": {"x": {"datum": -47, "axis": null}, "y": {"datum": 126.1, "axis": null}, "text": {"field": "letter"}}}
]}
],
"config": {
 "font": "Liberation Sans",
 "view": {"stroke": null},
 "axis": {"domainColor": "#111111", "domainWidth": 1.6, "tickColor": "#111111", "tickWidth": 1.2, "labelFontSize": 18, "labelColor": "#111111", "labelFont": "Liberation Sans", "titleFont": "Liberation Sans", "titleFontSize": 18.5, "titleFontWeight": "normal", "titleColor": "#111111", "grid": true, "gridColor": "#a8a8a8", "gridDash": [1, 2], "gridWidth": 1, "labelOverlap": false, "labelFlush": false, "labelBound": false}
}
}
